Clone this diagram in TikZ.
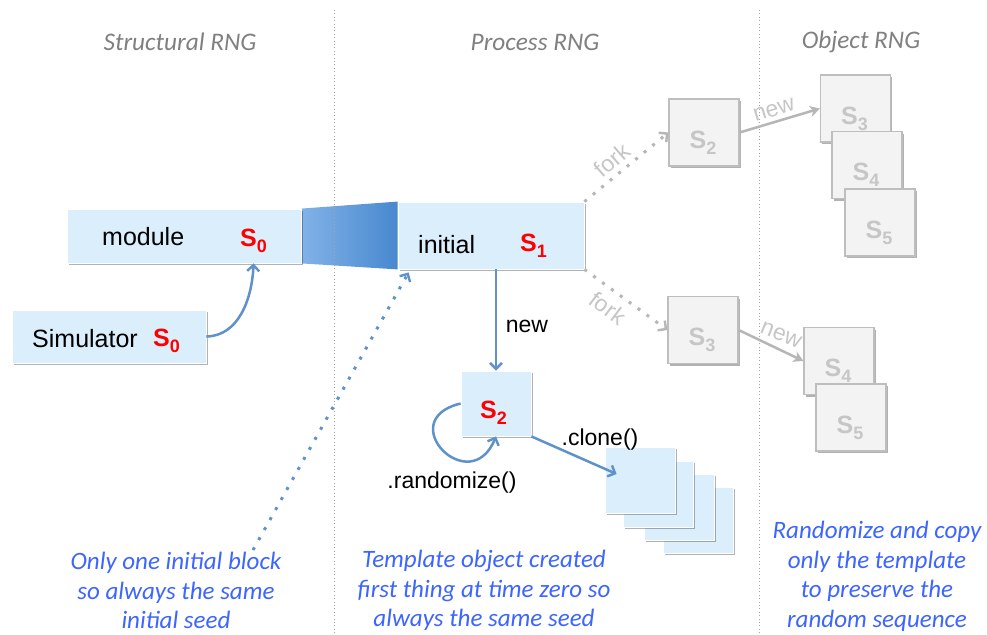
\documentclass[tikz,border=0pt]{standalone}
\usepackage{fontspec}
\setmainfont{Liberation Sans}
\newfontfamily\calfont{Carlito}
\usetikzlibrary{shadows,arrows.meta,backgrounds}
\definecolor{boxfill}{RGB}{219,238,252}
\definecolor{arrblue}{RGB}{95,145,203}
\definecolor{capblue}{RGB}{61,101,255}
\definecolor{hdrgrey}{RGB}{128,128,128}
\definecolor{gbfill}{RGB}{243,243,243}
\definecolor{gbdraw}{RGB}{190,190,190}
\definecolor{gtext}{RGB}{198,198,198}
\definecolor{garrow}{RGB}{182,182,182}
\definecolor{funL}{RGB}{130,178,232}
\definecolor{funR}{RGB}{72,136,206}
\definecolor{divgrey}{RGB}{165,165,165}
\newcommand\sseed[1]{{\fontsize{25}{28}\selectfont\bfseries S\raisebox{-6pt}{\fontsize{18}{20}\selectfont #1}}}
\tikzset{
  shad/.style={drop shadow={shadow xshift=1.5pt,shadow yshift=-2pt,opacity=0.3,fill=black}},
  bluebox/.style={fill=boxfill,draw=white,line width=0.8pt,inner sep=0,shad},
  greybox/.style={fill=gbfill,draw=gbdraw,line width=1.2pt,inner sep=0,minimum width=70pt,minimum height=67pt,shad},
  clonebox/.style={bluebox,minimum width=70pt,minimum height=66pt},
  txt/.style={font=\fontsize{25}{30}\selectfont,inner sep=0,anchor=base west},
  seedred/.style={text=red,inner sep=0,anchor=base west},
  seedgrey/.style={text=gtext,inner sep=0,anchor=base west},
  lbl/.style={font=\fontsize{23}{28}\selectfont,inner sep=0},
  glbl/.style={font=\fontsize{23}{28}\selectfont,text=gtext,inner sep=0},
  hdr/.style={font=\calfont\itshape\fontsize{25.3}{30}\selectfont,text=hdrgrey,inner sep=0},
  captext/.style={font=\calfont\itshape\fontsize{25}{29.5}\selectfont,text=capblue,align=center,inner sep=0},
  barrow/.style={draw=arrblue,line width=2.5pt,-{Straight Barb[length=6pt,width=12pt,line width=2.4pt]}},
  bdots/.style={draw=arrblue,line width=3pt,line cap=butt,dash pattern=on 3pt off 8.5pt,-{Straight Barb[length=6pt,width=12pt,line width=2.4pt]}},
  garr/.style={draw=garrow,line width=2.5pt,-{Stealth[length=10pt,width=11pt,inset=3pt]}},
  gdots/.style={draw=garrow,line width=3pt,line cap=butt,dash pattern=on 3pt off 8pt,-{Straight Barb[length=6pt,width=12pt,line width=2.4pt]}},
  divider/.style={draw=divgrey,line width=0.8pt,dash pattern=on 0.8pt off 2.6pt}
}
\begin{document}
\begin{tikzpicture}[x=1pt,y=-1pt]
\useasboundingbox (0,0) rectangle (987,634);
% dividers
\draw[divider] (334,10) -- (334,634);
\draw[divider] (759,10) -- (759,634);
% headers
\node[hdr] (h1) at (180,42) {Structural RNG};
\node[hdr] (h2) at (535,42) {Process RNG};
\node[hdr] (h3) at (861,42) {Object RNG};
% main blue boxes
\node[bluebox,minimum width=234pt,minimum height=54pt] (module) at (184,236) {};
\node[bluebox,minimum width=186pt,minimum height=67pt] (initial) at (491,235.5) {};
\node[bluebox,minimum width=194pt,minimum height=53pt] (sim) at (109,336.5) {};
\begin{scope}[on background layer]
\fill[white] (0,0) rectangle (987,634);
\shade[left color=funL,right color=funR] (module.north east) -- (initial.north west) -- (initial.south west) -- (module.south east) -- cycle;
\end{scope}
\node[txt] (tmod) at (102,245) {module};
\node[seedred] (s0m) at (240,246) {\sseed{0}};
\node[txt] (tini) at (418,253) {initial};
\node[seedred] (s1) at (520,251) {\sseed{1}};
\node[txt] (tsim) at (32,347) {Simulator};
\node[seedred] (s0s) at (153,346) {\sseed{0}};
% template S2
\node[bluebox,minimum width=70pt,minimum height=65pt] (s2b) at (496,403.5) {};
\node[seedred] (s2t) at (480,418) {\sseed{2}};
% clone stack
\node[clonebox] (c4) at (698,520) {};
\node[clonebox] (c3) at (679,507) {};
\node[clonebox] (c2) at (658,494) {};
\node[clonebox] (c1) at (640,480) {};
% grey boxes
\node[greybox] (g2) at (704,132.5) {};
\node[seedgrey] (g2t) at ([xshift=-14.5pt,yshift=-15.5pt]g2.center) {\sseed{2}};
\node[greybox] (g3) at (703,330) {};
\node[seedgrey] (g3t) at ([xshift=-14.5pt,yshift=-15.5pt]g3.center) {\sseed{3}};
\node[greybox] (t3) at (855.5,108.5) {};
\node[seedgrey] (t3t) at ([xshift=-14.5pt,yshift=-15.5pt]t3.center) {\sseed{3}};
\node[greybox] (t4) at (867,165) {};
\node[seedgrey] (t4t) at ([xshift=-14.5pt,yshift=-15.5pt]t4.center) {\sseed{4}};
\node[greybox] (t5) at (880,222.5) {};
\node[seedgrey] (t5t) at ([xshift=-14.5pt,yshift=-15.5pt]t5.center) {\sseed{5}};
\node[greybox] (b4) at (839,361) {};
\node[seedgrey] (b4t) at ([xshift=-14.5pt,yshift=-15.5pt]b4.center) {\sseed{4}};
\node[greybox] (b5) at (851,417.5) {};
\node[seedgrey] (b5t) at ([xshift=-14.5pt,yshift=-15.5pt]b5.center) {\sseed{5}};
% blue connectors
\draw[barrow] (sim.east) .. controls (238,336) and (252,300) .. (module.south -| s0m);
\coordinate (dstart) at (253,550);
\draw[bdots] (dstart) -- ([xshift=11pt,yshift=-3pt]initial.south west);
\draw[barrow] (s2b.north |- initial.south) -- (s2b.north);
\node[lbl] (lnew) at (527,326) {new};
\draw[barrow] (s2b.west) .. controls (392,420) and (470,500) .. (s2b.south);
\node[lbl] (lrand) at (452,483) {.randomize()};
\draw[barrow] (s2b.south east) -- ([xshift=12pt,yshift=6pt]c1.west);
\node[lbl] (lclone) at (600,440) {.clone()};
% grey connectors
\draw[gdots] (initial.north east) -- (g2.west);
\draw[gdots] (initial.south east) -- (g3.west);
\node[glbl,rotate=41] (lfork1) at (612,160) {fork};
\node[glbl,rotate=-37] (lfork2) at (608,308) {fork};
\draw[garr] (g2.east) -- (t3.west);
\draw[garr] (g3.east) -- (b4.west);
\node[glbl,rotate=17] (lnew1) at (774,110) {new};
\node[glbl,rotate=-22] (lnew2) at (781,335) {new};
% captions
\node[captext] (cap1) at (176,590.5) {Only one initial block\\so always the same\\initial seed};
\node[captext] (cap2) at (484,590.5) {Template object created\\first thing at time zero so\\always the same seed};
\node[captext] (cap3) at (877,576.5) {Randomize and copy\\only the template\\to preserve the\\random sequence};
\end{tikzpicture}
\end{document}
